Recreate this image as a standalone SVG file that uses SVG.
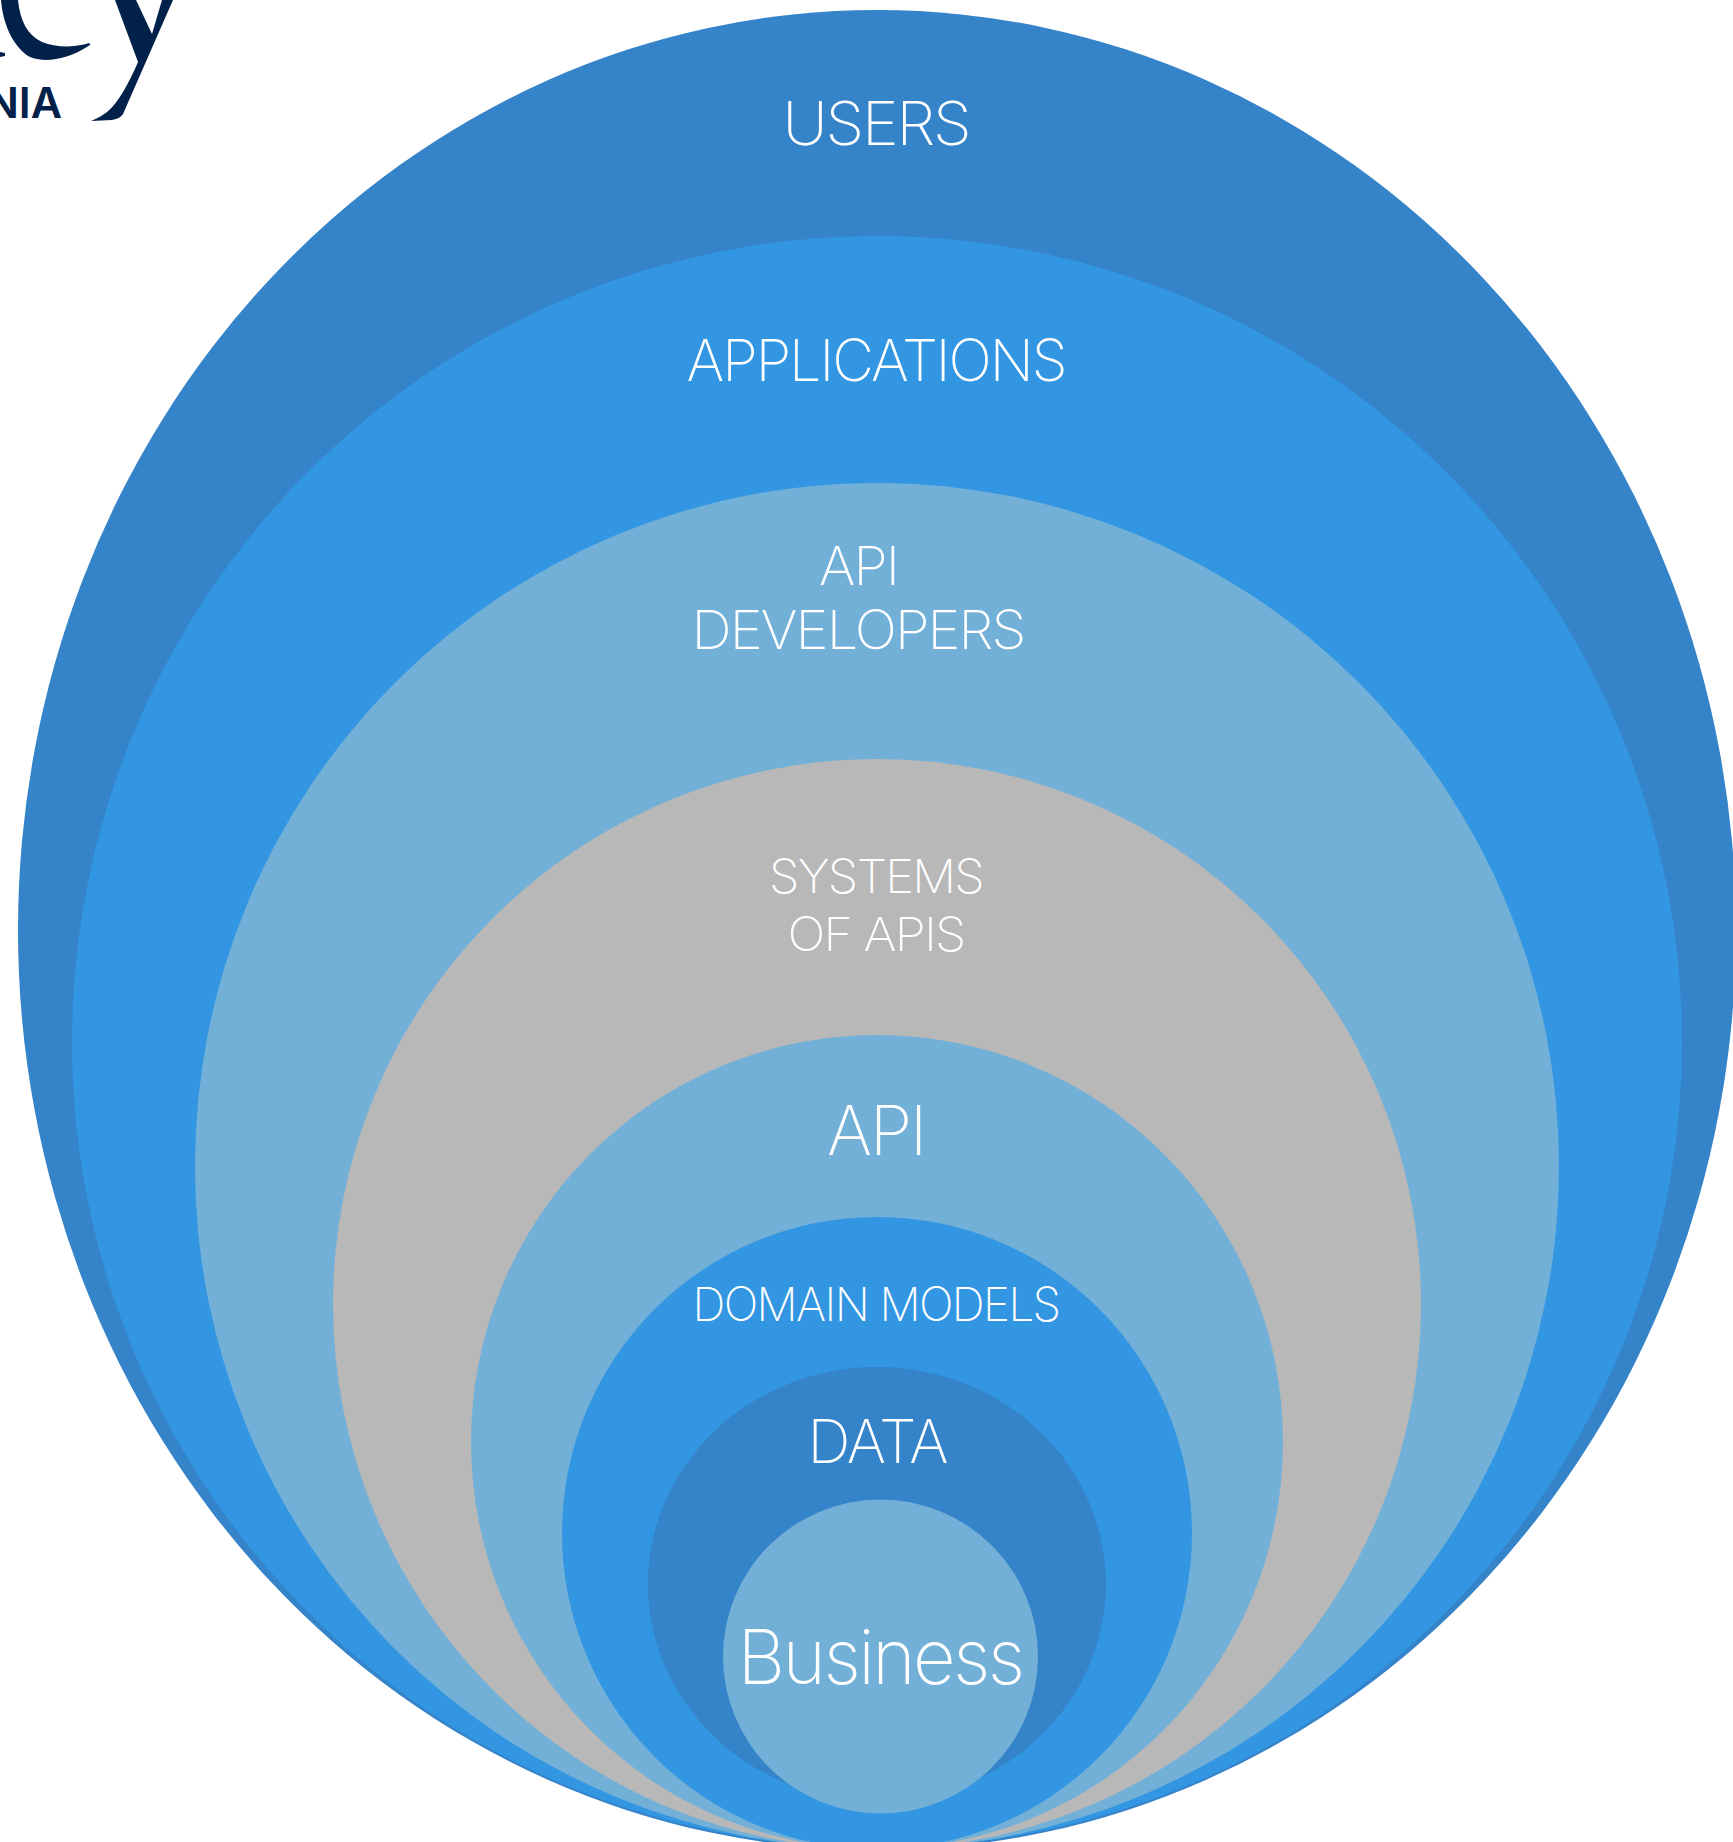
<svg xmlns="http://www.w3.org/2000/svg" width="1733" height="1842" viewBox="0 0 1733 1842">
<style>
text{font-family:"Inter","Liberation Sans",sans-serif;font-weight:250;fill:#fff;text-anchor:middle;letter-spacing:-.035em}
.d{fill:#3583c9}.b{fill:#3296e2}.l{fill:#73b0d8}.g{fill:#b8b8b8}
</style>
<rect width="1733" height="1842" fill="#fff"/>
<g id="logo">
<path fill="#02214a" d="M1,0C3,25 14,48 30,57C42,62 65,62 90,45C91,43 88,43 86,44C70,48 55,47 42,42C27,35 20,20 18,0Z"/>
<path fill="#02214a" d="M0,52L5,53L5,56L0,57Z"/>
<path fill="#02214a" d="M115,0L138,62C128,85 118,103 107,112C102,116 96,119 91,121L112,120C118,119 121,117 123,114L173,0L162,0L152,34L136,0Z"/>
<text x="62" y="118" style="font-family:'Inter','Liberation Sans',sans-serif;font-weight:600;font-size:43px;fill:#02214a;text-anchor:end;letter-spacing:0">NIA</text>
</g>
<g id="users"><ellipse class="d" cx="877" cy="930" rx="859" ry="920"/><text x="876" y="145" font-size="60" textLength="187" lengthAdjust="spacingAndGlyphs">USERS</text></g>
<g id="applications"><ellipse class="b" cx="877" cy="1042" rx="805" ry="806"/><text x="876" y="381" font-size="58" textLength="379" lengthAdjust="spacingAndGlyphs">APPLICATIONS</text></g>
<g id="api-developers"><ellipse class="l" cx="877" cy="1166" rx="682" ry="683"/><text x="858.5" y="585" font-size="54" textLength="79" lengthAdjust="spacingAndGlyphs">API</text><text x="858" y="649" font-size="54" textLength="333" lengthAdjust="spacingAndGlyphs">DEVELOPERS</text></g>
<g id="systems-of-apis"><ellipse class="g" cx="877" cy="1304" rx="544" ry="545"/><text x="876" y="893" font-size="47" textLength="214" lengthAdjust="spacingAndGlyphs">SYSTEMS</text><text x="876" y="951" font-size="47" textLength="177" lengthAdjust="spacingAndGlyphs">OF APIS</text></g>
<g id="api"><ellipse class="l" cx="877" cy="1442" rx="406" ry="407"/><text x="876" y="1155" font-size="68" textLength="98" lengthAdjust="spacingAndGlyphs">API</text></g>
<g id="domain-models"><ellipse class="b" cx="877" cy="1533" rx="315" ry="316"/><text x="876" y="1321" font-size="47" textLength="367" lengthAdjust="spacingAndGlyphs">DOMAIN MODELS</text></g>
<g id="data"><ellipse class="d" cx="877" cy="1584" rx="229" ry="217"/><text x="877" y="1463" font-size="60" textLength="139" lengthAdjust="spacingAndGlyphs">DATA</text></g>
<g id="business"><ellipse class="l" cx="880.5" cy="1656.5" rx="157.5" ry="157"/><text x="880" y="1684" font-size="76" textLength="285" lengthAdjust="spacingAndGlyphs" style="font-weight:170">Business</text></g>
<g id="connectors"/>
</svg>
